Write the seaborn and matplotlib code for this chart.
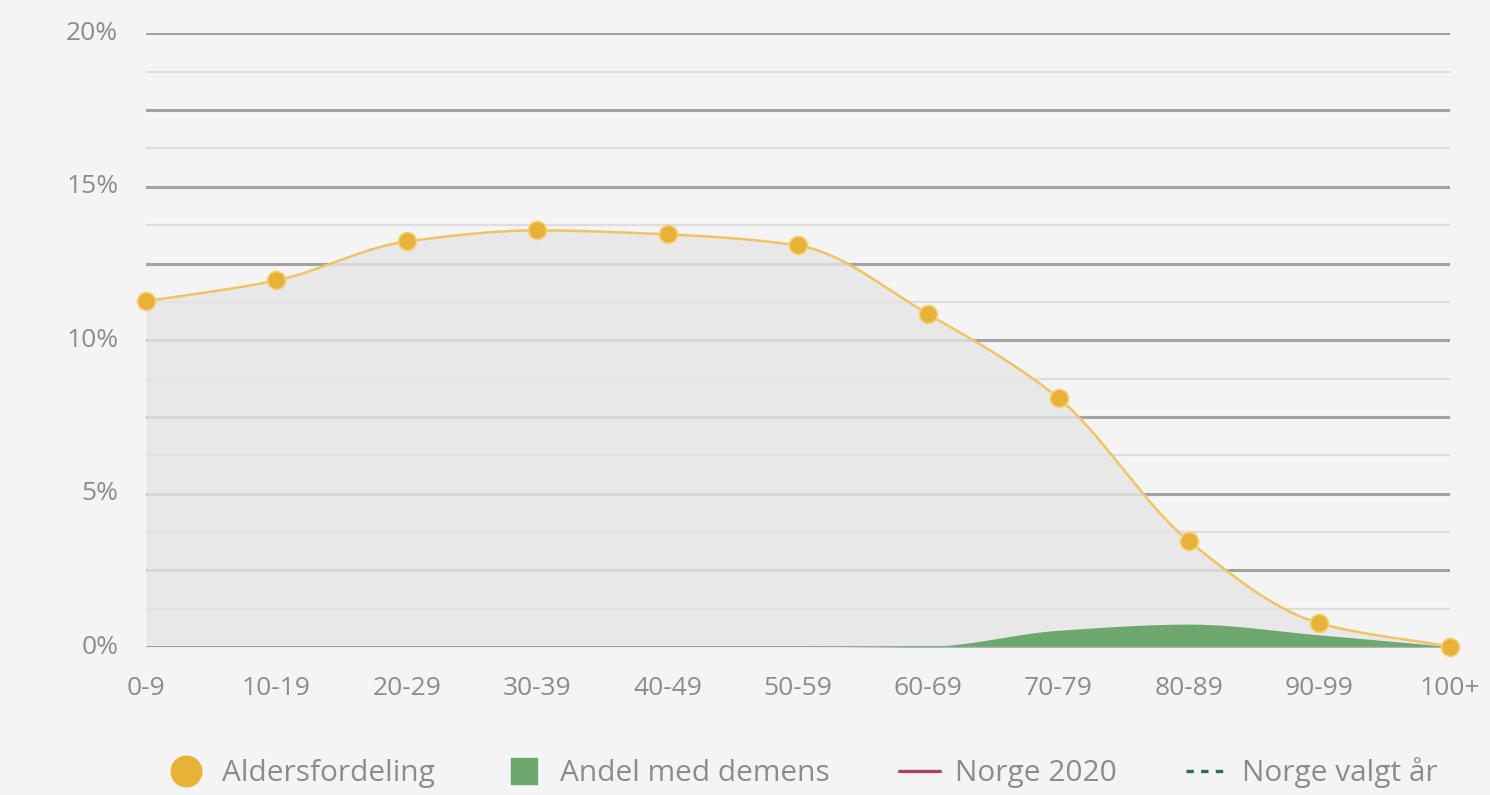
import numpy as np
import matplotlib
matplotlib.use("Agg")
import matplotlib.pyplot as plt
import seaborn as sns
from matplotlib.lines import Line2D

# Data
age_groups = ['0-9', '10-19', '20-29', '30-39', '40-49', '50-59',
              '60-69', '70-79', '80-89', '90-99', '100+']
age_share = [11.27, 11.95, 13.22, 13.58, 13.45, 13.09, 10.85, 8.11, 3.45, 0.78, 0.02]
dementia_share = [0.0, 0.0, 0.0, 0.0, 0.0, 0.0, 0.03, 0.55, 0.75, 0.4, 0.02]
y_ticks = [0, 5, 10, 15, 20]


def smooth(xs, ys, n=400):
    # monotone cubic (Fritsch-Carlson) curve for drawing only
    xs = np.asarray(xs, float)
    ys = np.asarray(ys, float)
    h = np.diff(xs)
    d = np.diff(ys) / h
    m = np.zeros_like(ys)
    m[0], m[-1] = d[0], d[-1]
    for i in range(1, len(ys) - 1):
        if d[i - 1] * d[i] <= 0:
            m[i] = 0
        else:
            m[i] = 2 / (1 / d[i - 1] + 1 / d[i])
    xx = np.linspace(xs[0], xs[-1], n)
    idx = np.clip(np.searchsorted(xs, xx) - 1, 0, len(xs) - 2)
    t = (xx - xs[idx]) / h[idx]
    h00 = 2 * t**3 - 3 * t**2 + 1
    h10 = t**3 - 2 * t**2 + t
    h01 = -2 * t**3 + 3 * t**2
    h11 = t**3 - t**2
    yy = h00 * ys[idx] + h10 * h[idx] * m[idx] + h01 * ys[idx + 1] + h11 * h[idx] * m[idx + 1]
    return xx, yy


sns.set_style("white")
plt.rcParams['font.family'] = ['Open Sans', 'DejaVu Sans']

bg = '#f4f4f4'
fig = plt.figure(figsize=(14.9, 7.95), dpi=100, facecolor=bg)
ax = fig.add_axes([0.098, 0.186, 0.875, 0.772])
ax.set_facecolor(bg)

x = np.arange(len(age_groups))
xs, ys = smooth(x, age_share)
xd, yd = smooth(x, dementia_share)
yd = np.clip(yd, 0, None)

# grid lines, darker every 2.5 %
for v in np.arange(0, 20.01, 1.25):
    major = abs(v / 2.5 - round(v / 2.5)) < 1e-6
    ax.axhline(v, color='#a3a3a3' if major else '#dedede',
               lw=2.2 if major else 1.6, zorder=1)

ax.fill_between(xs, 0, ys, color='#e5e5e5', alpha=0.8, lw=0, zorder=2)
ax.fill_between(xd, 0, yd, color='#6fa86f', lw=0, zorder=3)
ax.axhline(0, color='#9a9a9a', lw=2, zorder=4)
ax.plot(xs, ys, color='#f0c463', lw=1.8, zorder=5)
sns.scatterplot(x=x, y=age_share, ax=ax, color='#e7b236', s=170,
                edgecolor='#f6d27a', linewidth=1.2, zorder=6, clip_on=False)

ax.set_xlim(0, len(age_groups) - 1)
ax.set_ylim(0, 20)
ax.set_xticks(x)
ax.set_xticklabels(age_groups)
ax.set_yticks(y_ticks)
ax.set_yticklabels([f'{t}%' for t in y_ticks])
ax.tick_params(axis='both', length=0, labelsize=19, labelcolor='#8c8c8c')
ax.tick_params(axis='x', pad=21)
ax.tick_params(axis='y', pad=20)
for lab in ax.get_yticklabels():
    lab.set_verticalalignment('center')
sns.despine(ax=ax, left=True, bottom=True)

handles = [
    Line2D([], [], marker='o', ls='none', color='#e7b236', markersize=22),
    Line2D([], [], marker='s', ls='none', color='#6fa86f', markersize=19),
    Line2D([], [], color='#a8445f', lw=2.4),
    Line2D([], [], color='#2f6b4f', lw=2.4, ls=(0, (2.2, 2.2))),
]
labels = ['Aldersfordeling', 'Andel med demens', 'Norge 2020', 'Norge valgt år']
fig.legend(handles, labels, loc='lower center', bbox_to_anchor=(0.538, -0.025),
           ncol=4, frameon=False, fontsize=21.5, labelcolor='#8c8c8c',
           columnspacing=2.3, handlelength=1.4, handletextpad=0.5)

fig.savefig('out.png', dpi=100, facecolor=bg)
